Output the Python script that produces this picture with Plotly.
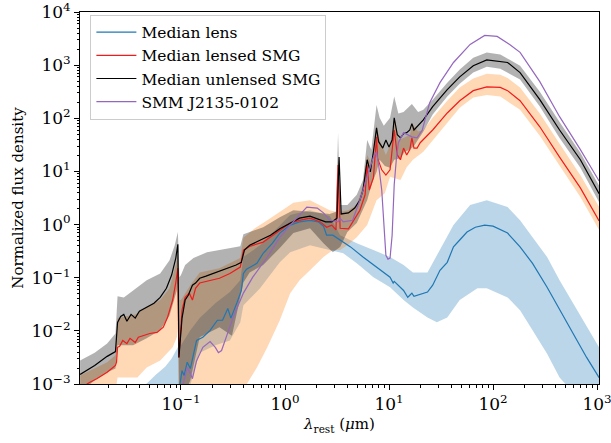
import numpy as np
import plotly.graph_objects as go

# Rest-frame SED templates, stored as log10(wavelength / um) and log10(normalized flux)

# Median unlensed SMG (black line)
unl_logw = [-1.97, -1.83, -1.71, -1.63, -1.61, -1.58, -1.55, -1.52, -1.48, -1.44, -1.40, -1.36,
            -1.31, -1.26, -1.20, -1.14, -1.09, -1.05, -1.03, -1.02, -0.99, -0.96, -0.93, -0.89,
            -0.86, -0.82, -0.76, -0.69, -0.63, -0.55, -0.47, -0.42, -0.39, -0.34, -0.24, -0.14,
            -0.05, 0.05, 0.14, 0.24, 0.32, 0.39, 0.45, 0.50, 0.52, 0.54, 0.61, 0.67, 0.72, 0.75,
            0.79, 0.82, 0.85, 0.88, 0.90, 0.94, 0.97, 1.00, 1.03, 1.05, 1.08, 1.11, 1.14, 1.17,
            1.20, 1.22, 1.24, 1.27, 1.33, 1.42, 1.56, 1.68, 1.81, 1.94, 2.07, 2.14, 2.26, 2.45,
            2.64, 2.84, 3.02]
unl_logf = [-2.82, -2.65, -2.48, -2.39, -1.84, -1.73, -1.69, -1.82, -1.69, -1.76, -1.63, -1.59,
            -1.54, -1.48, -1.37, -1.20, -0.95, -0.63, -0.37, -2.50, -1.76, -1.42, -1.33, -1.14,
            -1.10, -1.01, -0.97, -0.92, -0.88, -0.82, -0.76, -0.71, -0.48, -0.39, -0.29, -0.20,
            -0.08, 0.03, 0.12, 0.16, 0.10, 0.05, 0.05, 0.12, 1.27, 0.20, 0.22, 0.31, 0.46, 0.65,
            1.22, 0.99, 1.37, 1.82, 1.56, 1.44, 1.59, 1.46, 1.59, 2.01, 1.69, 1.63, 1.71, 1.73,
            1.78, 1.90, 1.78, 1.84, 1.97, 2.22, 2.54, 2.78, 2.99, 3.10, 3.07, 3.05, 2.86, 2.35,
            1.78, 1.22, 0.58]

unl_hi_logw = [-1.97, -1.83, -1.71, -1.63, -1.61, -1.55, -1.46, -1.33, -1.20, -1.11, -1.06, -1.03,
               -1.015, -1.00, -0.96, -0.88, -0.75, -0.58, -0.43, -0.40, -0.21, -0.05, 0.08, 0.24,
               0.43, 0.49, 0.51, 0.53, 0.60, 0.69, 0.75, 0.79, 0.83, 0.88, 0.91, 0.95, 1.01, 1.05,
               1.09, 1.14, 1.22, 1.28, 1.33, 1.42, 1.56, 1.68, 1.81, 1.94, 2.07, 2.26, 2.45, 2.64,
               2.84, 3.02]
unl_hi_logf = [-2.56, -2.41, -2.24, -2.05, -1.35, -1.37, -1.24, -1.05, -0.92, -0.67, -0.39, -0.14,
               -0.99, -0.95, -0.76, -0.63, -0.52, -0.46, -0.41, -0.18, -0.05, 0.14, 0.27, 0.24,
               0.20, 0.24, 1.73, 0.37, 0.37, 0.56, 0.84, 1.59, 1.41, 2.25, 2.01, 1.86, 2.01, 2.41,
               2.09, 2.12, 2.27, 2.12, 2.16, 2.35, 2.67, 2.92, 3.14, 3.24, 3.20, 2.99, 2.50, 1.93,
               1.35, 0.73]
unl_lo_logw = [-1.97, -1.83, -1.71, -1.63, -1.61, -1.46, -1.33, -1.20, -1.11, -1.04, -1.03, -1.02,
               -0.96, -0.91, -0.82, -0.63, -0.51, -0.40, -0.34, -0.21, -0.05, 0.08, 0.24, 0.37,
               0.46, 0.53, 0.60, 0.69, 0.79, 0.84, 0.88, 0.91, 0.96, 1.01, 1.05, 1.11, 1.15, 1.20,
               1.24, 1.28, 1.33, 1.42, 1.56, 1.68, 1.81, 1.94, 2.07, 2.26, 2.45, 2.64, 2.84, 3.02]
unl_lo_logf = [-3.16, -2.93, -2.78, -2.71, -2.27, -2.27, -2.14, -1.99, -1.71, -1.24, -1.09, -3.22,
               -3.16, -2.93, -2.12, -1.93, -2.09, -1.09, -0.90, -0.76, -0.44, -0.16, -0.07, -0.35,
               -0.52, -0.42, -0.14, 0.03, 0.46, 0.80, 0.99, 1.22, 1.10, 1.07, 1.22, 1.25, 1.37, 1.41,
               1.48, 1.59, 1.75, 2.07, 2.41, 2.65, 2.86, 2.97, 2.93, 2.73, 2.22, 1.63, 1.07, 0.42]

# Median lensed SMG (red line)
len_logw = [-1.97, -1.88, -1.81, -1.71, -1.63, -1.62, -1.61, -1.59, -1.56, -1.52, -1.49, -1.44,
            -1.41, -1.37, -1.30, -1.23, -1.17, -1.13, -1.08, -1.05, -1.03, -1.02, -0.99, -0.96,
            -0.92, -0.89, -0.86, -0.82, -0.72, -0.63, -0.53, -0.43, -0.40, -0.34, -0.21, -0.05,
            0.05, 0.14, 0.24, 0.34, 0.40, 0.45, 0.49, 0.51, 0.53, 0.61, 0.65, 0.72, 0.77, 0.79,
            0.81, 0.85, 0.88, 0.89, 0.93, 0.97, 1.01, 1.03, 1.05, 1.08, 1.11, 1.14, 1.17, 1.20,
            1.22, 1.24, 1.27, 1.30, 1.42, 1.56, 1.68, 1.81, 1.94, 2.07, 2.14, 2.26, 2.45, 2.64,
            2.84, 3.02]
len_logf = [-3.09, -2.97, -2.90, -2.78, -2.65, -2.59, -2.31, -2.29, -2.18, -2.24, -2.14, -2.22,
            -2.12, -2.09, -2.05, -2.03, -1.93, -1.75, -1.42, -1.09, -0.82, -2.50, -1.61, -1.37,
            -1.29, -1.42, -1.20, -1.10, -1.05, -1.01, -0.92, -0.80, -0.48, -0.41, -0.33, -0.10,
            0.03, 0.08, 0.12, 0.05, -0.05, -0.01, -0.10, 1.12, -0.07, -0.08, 0.05, 0.27, 0.56, 1.12,
            0.65, 0.88, 1.65, 1.25, 1.03, 0.93, 1.03, 1.41, 1.78, 1.31, 1.22, 1.44, 1.31, 1.41,
            1.63, 1.44, 1.44, 1.54, 1.78, 2.10, 2.33, 2.52, 2.59, 2.58, 2.52, 2.33, 1.84, 1.27,
            0.69, 0.07]

len_hi_logw = [-1.97, -1.83, -1.71, -1.63, -1.61, -1.44, -1.30, -1.20, -1.11, -1.05, -1.03, -1.015,
               -1.00, -0.91, -0.82, -0.63, -0.43, -0.40, -0.29, -0.17, -0.05, 0.08, 0.24, 0.37,
               0.43, 0.49, 0.51, 0.53, 0.61, 0.69, 0.75, 0.79, 0.84, 0.88, 0.91, 0.97, 1.03, 1.05,
               1.09, 1.14, 1.20, 1.23, 1.28, 1.33, 1.42, 1.56, 1.68, 1.81, 1.94, 2.07, 2.14, 2.26,
               2.45, 2.64, 2.84, 3.02]
len_hi_logf = [-2.84, -2.71, -2.59, -2.46, -1.76, -1.69, -1.52, -1.42, -1.20, -0.76, -0.58, -1.42,
               -1.42, -1.14, -0.90, -0.82, -0.63, -0.25, -0.07, 0.08, 0.24, 0.41, 0.46, 0.33,
               0.27, 0.24, 1.22, 0.24, 0.27, 0.37, 0.75, 1.31, 1.12, 1.88, 1.59, 1.31, 1.59, 2.01,
               1.59, 1.63, 1.69, 1.88, 1.75, 1.78, 2.01, 2.33, 2.58, 2.75, 2.84, 2.82, 2.76, 2.58,
               2.09, 1.52, 0.93, 0.33]
len_lo_logw = [-1.97, -1.78, -1.68, -1.62, -1.61, -1.42, -1.33, -1.20, -1.08, -1.04, -1.03, -1.02,
               -0.38, -0.37, -0.27, -0.17, -0.05, 0.05, 0.14, 0.24, 0.37, 0.46, 0.53, 0.60, 0.69,
               0.79, 0.88, 0.96, 1.01, 1.11, 1.17, 1.23, 1.33, 1.42, 1.56, 1.68, 1.81, 1.94, 2.07,
               2.26, 2.45, 2.64, 2.84, 3.02]
len_lo_logf = [-3.31, -3.22, -3.05, -3.01, -2.88, -2.88, -2.69, -2.56, -2.31, -2.12, -1.99, -3.31,
               -3.31, -3.01, -2.69, -2.31, -1.80, -1.29, -1.05, -0.86, -0.61, -0.48, -0.48, -0.39,
               -0.24, -0.01, 0.46, 0.59, 0.90, 0.84, 1.08, 1.22, 1.37, 1.59, 1.92, 2.20, 2.39, 2.44,
               2.41, 2.16, 1.67, 1.10, 0.52, -0.10]

# Median lens (blue line)
lens_logw = [-1.01, -0.99, -0.97, -0.94, -0.91, -0.88, -0.85, -0.79, -0.72, -0.65, -0.60, -0.55,
             -0.52, -0.46, -0.42, -0.40, -0.37, -0.27, -0.21, -0.12, -0.05, 0.05, 0.14, 0.24,
             0.32, 0.37, 0.40, 0.46, 0.56, 0.63, 0.75, 0.88, 1.01, 1.04, 1.05, 1.14, 1.18, 1.20,
             1.22, 1.24, 1.30, 1.37, 1.42, 1.49, 1.56, 1.62, 1.68, 1.75, 1.83, 1.92, 2.00, 2.14,
             2.26, 2.38, 2.52, 2.64, 2.77, 2.90, 3.02]
lens_logf = [-3.01, -2.75, -2.84, -2.59, -2.71, -2.41, -2.18, -2.12, -1.99, -1.80, -1.80, -1.58,
             -1.76, -1.46, -1.24, -0.92, -0.84, -0.73, -0.54, -0.35, -0.16, -0.01, 0.05, 0.08,
             0.05, -0.03, -0.20, -0.20, -0.33, -0.42, -0.61, -0.80, -0.99, -1.10, -1.07, -1.24,
             -1.37, -1.33, -1.29, -1.35, -1.31, -1.27, -1.14, -0.86, -0.71, -0.42, -0.29, -0.14,
             -0.05, -0.01, -0.03, -0.16, -0.42, -0.73, -1.18, -1.61, -2.05, -2.50, -2.88]

lens_hi_logw = [-1.44, -1.35, -1.25, -1.15, -1.09, -1.03, -1.02, -1.00, -0.91, -0.82, -0.67, -0.53,
                -0.43, -0.40, -0.24, -0.05, 0.05, 0.24, 0.43, 0.53, 0.69, 0.85, 1.01, 1.14, 1.23,
                1.37, 1.49, 1.62, 1.78, 1.94, 2.14, 2.26, 2.38, 2.52, 2.64, 2.77, 2.90, 3.02]
lens_hi_logf = [-3.31, -3.03, -2.84, -2.67, -2.52, -2.31, -2.18, -2.27, -1.99, -1.76, -1.48, -1.27,
                -1.05, -0.61, -0.39, -0.01, 0.18, 0.27, 0.16, -0.20, -0.35, -0.48, -0.61, -0.76,
                -0.90, -0.90, -0.48, -0.01, 0.37, 0.46, 0.33, 0.08, -0.24, -0.61, -1.05, -1.48,
                -1.93, -2.31]
lens_lo_logw = [-1.44, -1.03, -1.00, -0.91, -0.82, -0.67, -0.53, -0.43, -0.40, -0.24, -0.05, 0.05,
                0.24, 0.43, 0.56, 0.69, 0.85, 1.01, 1.14, 1.23, 1.37, 1.46, 1.56, 1.68, 1.85, 1.94,
                2.14, 2.26, 2.38, 2.52, 2.64, 2.71, 2.84, 3.02]
lens_lo_logf = [-3.69, -3.69, -3.31, -3.01, -2.41, -2.27, -2.18, -1.84, -1.52, -1.20, -0.71, -0.52,
                -0.39, -0.48, -0.54, -0.73, -0.99, -1.18, -1.42, -1.56, -1.75, -1.84, -1.75, -1.42,
                -1.20, -1.20, -1.37, -1.61, -1.99, -2.43, -2.88, -3.03, -3.50, -4.16]

# SMM J2135-0102 (purple line)
smm_logw = [-0.98, -0.94, -0.91, -0.89, -0.85, -0.79, -0.72, -0.67, -0.64, -0.61, -0.56, -0.50,
            -0.40, -0.31, -0.17, -0.05, 0.05, 0.14, 0.21, 0.31, 0.37, 0.43, 0.51, 0.53, 0.56,
            0.65, 0.72, 0.79, 0.85, 0.88, 0.90, 0.93, 0.95, 0.97, 0.99, 1.01, 1.03, 1.05, 1.07,
            1.09, 1.14, 1.18, 1.22, 1.27, 1.32, 1.39, 1.49, 1.62, 1.78, 1.92, 2.04, 2.16, 2.26,
            2.45, 2.64, 2.84, 3.02]
smm_logf = [-3.01, -2.69, -2.80, -2.90, -2.56, -2.31, -2.20, -2.31, -2.41, -2.37, -2.09, -1.75,
            -1.29, -0.99, -0.61, -0.24, -0.01, 0.18, 0.33, 0.31, 0.22, 0.08, 0.05, 0.12, 0.05,
            0.08, 0.46, 0.90, 1.27, 1.37, 1.12, 0.65, -0.10, -0.58, -0.65, -0.63, -0.20, 0.75,
            1.22, 1.54, 1.73, 1.69, 1.65, 1.63, 1.78, 2.29, 2.67, 3.05, 3.39, 3.56, 3.54, 3.39,
            3.24, 2.69, 2.03, 1.41, 0.82]

SERIES_NAMES = ["Median lens", "Median lensed SMG", "Median unlensed SMG", "SMM J2135-0102"]

# decade tick labels
X_DECADES = [-1, 0, 1, 2, 3]
Y_DECADES = [-3, -2, -1, 0, 1, 2, 3, 4]


def lin(vals):
    return np.power(10.0, np.asarray(vals, dtype=float))


def band(hi_w, hi_f, lo_w, lo_f, color):
    x = np.concatenate([lin(hi_w), lin(lo_w)[::-1]])
    y = np.concatenate([lin(hi_f), lin(lo_f)[::-1]])
    return go.Scatter(x=x, y=y, mode="lines", fill="toself", fillcolor=color,
                      line=dict(width=0), showlegend=False, hoverinfo="skip")


def power_label(e):
    return "10<sup>%s</sup>" % (str(e).replace("-", "\u2212"))


def minor_positions(lo_dec, hi_dec):
    return [m * 10.0 ** d for d in range(lo_dec, hi_dec + 1) for m in range(2, 10)]


fig = go.Figure()

# shaded percentile ranges
fig.add_trace(band(lens_hi_logw, lens_hi_logf, lens_lo_logw, lens_lo_logf, "rgba(31,119,180,0.3)"))
fig.add_trace(band(len_hi_logw, len_hi_logf, len_lo_logw, len_lo_logf, "rgba(255,127,14,0.3)"))
fig.add_trace(band(unl_hi_logw, unl_hi_logf, unl_lo_logw, unl_lo_logf, "rgba(0,0,0,0.3)"))

# median curves
for (w, f), name, color in zip(
        [(lens_logw, lens_logf), (len_logw, len_logf), (unl_logw, unl_logf), (smm_logw, smm_logf)],
        SERIES_NAMES,
        ["#1f77b4", "#ee1c1c", "#000000", "#9467bd"]):
    fig.add_trace(go.Scatter(x=lin(w), y=lin(f), mode="lines", name=name,
                             line=dict(color=color, width=1.2)))

axis_common = dict(
    type="log", tickmode="array",
    showline=True, linecolor="black", linewidth=1, mirror=True,
    ticks="outside", ticklen=5, tickwidth=1, tickcolor="black",
    showgrid=False, zeroline=False, ticklabeloverflow="allow",
    tickfont=dict(family="DejaVu Serif", size=17, color="black"),
)

fig.update_xaxes(range=[-1.971, 3.019],
                 tickvals=[10.0 ** e for e in X_DECADES],
                 ticktext=[power_label(e) for e in X_DECADES],
                 minor=dict(tickmode="array", tickvals=minor_positions(-2, 2), ticks="outside",
                            ticklen=2.5, tickwidth=0.8, tickcolor="black", showgrid=False),
                 title=dict(text="<i>λ</i><sub>rest</sub> (<i>μ</i>m)",
                            font=dict(family="DejaVu Serif", size=15, color="black"), standoff=5),
                 **axis_common)
fig.update_yaxes(range=[-3, 4],
                 tickvals=[10.0 ** e for e in Y_DECADES],
                 ticktext=[power_label(e) for e in Y_DECADES],
                 minor=dict(tickmode="array", tickvals=minor_positions(-3, 3), ticks="outside",
                            ticklen=2.5, tickwidth=0.8, tickcolor="black", showgrid=False),
                 title=dict(text="Normalized flux density",
                            font=dict(family="DejaVu Serif", size=15, color="black"), standoff=4),
                 **axis_common)

fig.update_layout(
    width=611, height=443,
    margin=dict(l=80, r=12, t=12, b=59, autoexpand=False),
    plot_bgcolor="white", paper_bgcolor="white",
    font=dict(family="DejaVu Serif", color="black"),
    legend=dict(x=0.02, y=0.993, xanchor="left", yanchor="top",
                bgcolor="rgba(255,255,255,0.8)", bordercolor="#cccccc", borderwidth=1,
                font=dict(family="DejaVu Serif", size=15.5, color="black"),
                itemwidth=40, tracegroupgap=0),
)

fig.write_html("out.html")
